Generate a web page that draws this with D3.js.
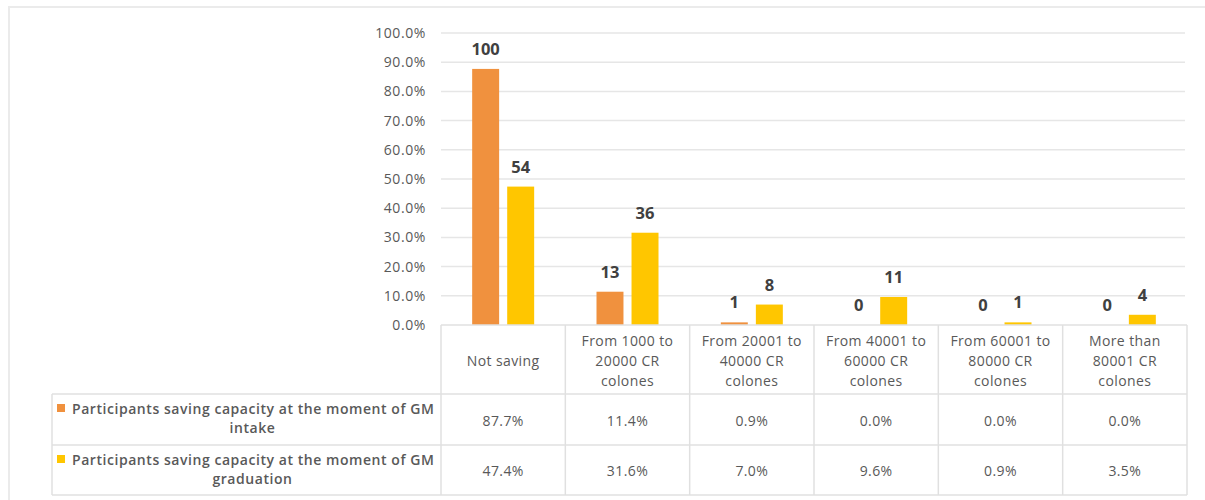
<!DOCTYPE html>
<html>
<head>
<meta charset="utf-8">
<script src="https://cdn.jsdelivr.net/npm/d3@7"></script>
<style>
	body { margin: 0; background: #fff; }
	text { font-family: "Open Sans", "Noto Sans", sans-serif; }
</style>
</head>
<body>
<div class="chart"></div>
<script>
// DATA
var categories = [
	["Not saving"],
	["From 1000 to", "20000 CR", "colones"],
	["From  20001 to", "40000 CR", "colones"],
	["From 40001 to", "60000 CR", "colones"],
	["From 60001 to", "80000 CR", "colones"],
	["More than", "80001 CR", "colones"]
];
var seriesNames = [
	["Participants saving capacity at the moment of GM", "intake"],
	["Participants saving capacity at the moment of GM", "graduation"]
];
var intakePct = [87.7, 11.4, 0.9, 0.0, 0.0, 0.0];
var graduationPct = [47.4, 31.6, 7.0, 9.6, 0.9, 3.5];
var intakeCount = [100, 13, 1, 0, 0, 0];
var graduationCount = [54, 36, 8, 11, 1, 4];
var yTicks = [0, 10, 20, 30, 40, 50, 60, 70, 80, 90, 100];
var colors = ["#f0913e", "#ffc600"];

// SETUP
var width = 1205, height = 500;
var plot = { left: 441, right: 1187, top: 33, bottom: 325 };
var table = { left: 52, header: 394, row1: 445, row2: 495 };
var txtColor = "#595959";

var svg = d3.select(".chart")
	.append("svg")
	.attr("width", width)
	.attr("height", height);

// outer frame
svg.append("path")
	.attr("d", "M9,505 L9,7 L1210,7")
	.attr("fill", "none")
	.attr("stroke", "#ebebeb")
	.attr("stroke-width", 2);

var x = d3.scaleBand()
	.domain(d3.range(categories.length))
	.range([plot.left, plot.right]);

var y = d3.scaleLinear()
	.domain([0, 100])
	.range([plot.bottom, plot.top]);

var sub = d3.scaleBand()
	.domain([0, 1])
	.range([0, 62])
	.paddingInner(0.23);

// gridlines
svg.append("g")
	.selectAll("line")
	.data(yTicks.slice(1))
	.enter().append("line")
		.attr("x1", plot.left)
		.attr("x2", plot.right - 2)
		.attr("y1", function(d) { return y(d); })
		.attr("y2", function(d) { return y(d); })
		.attr("stroke", "#e6e6e6")
		.attr("stroke-width", 1.5);

// y axis labels
svg.append("g")
	.selectAll("text")
	.data(yTicks)
	.enter().append("text")
		.attr("x", 426)
		.attr("y", function(d) { return y(d) + 5; })
		.attr("text-anchor", "end")
		.attr("fill", txtColor)
		.attr("font-size", 14)
		.attr("letter-spacing", 0.6)
		.text(function(d) { return d.toFixed(1) + "%"; });

// bars
var series = [
	{ pct: intakePct, count: intakeCount },
	{ pct: graduationPct, count: graduationCount }
];

series.forEach(function(s, si) {
	var g = svg.append("g");
	g.selectAll("rect")
		.data(s.pct)
		.enter().append("rect")
			.attr("x", function(d, i) { return x(i) + x.bandwidth() / 2 - 31 + sub(si); })
			.attr("width", sub.bandwidth())
			.attr("y", function(d) { return y(d); })
			.attr("height", function(d) { return plot.bottom - y(d); })
			.attr("fill", colors[si]);
	g.selectAll("text")
		.data(s.pct)
		.enter().append("text")
			.attr("x", function(d, i) { return x(i) + x.bandwidth() / 2 - 31 + sub(si) + sub.bandwidth() / 2; })
			.attr("y", function(d) { return y(d) - 14; })
			.attr("text-anchor", "middle")
			.attr("font-size", 16.5)
			.attr("font-weight", "bold")
			.attr("fill", "#404040")
			.text(function(d, i) { return s.count[i]; });
});

// data table
var grid = svg.append("g")
	.attr("stroke", "#e0e0e0")
	.attr("stroke-width", 1.5);

grid.selectAll(".vline")
	.data(d3.range(categories.length + 1))
	.enter().append("line")
		.attr("x1", function(d) { return d < categories.length ? x(d) : plot.right; })
		.attr("x2", function(d) { return d < categories.length ? x(d) : plot.right; })
		.attr("y1", plot.bottom)
		.attr("y2", table.row2);

grid.append("line")
	.attr("x1", plot.left).attr("x2", plot.right)
	.attr("y1", plot.bottom).attr("y2", plot.bottom);

[table.header, table.row1, table.row2].forEach(function(yy) {
	grid.append("line")
		.attr("x1", table.left).attr("x2", plot.right)
		.attr("y1", yy).attr("y2", yy);
});

grid.append("line")
	.attr("x1", table.left).attr("x2", table.left)
	.attr("y1", table.header).attr("y2", table.row2);

// header cells
var header = svg.append("g")
	.selectAll("text")
	.data(categories)
	.enter().append("text")
		.attr("text-anchor", "middle")
		.attr("font-size", 14)
		.attr("letter-spacing", 0.4)
		.attr("fill", txtColor);

header.each(function(lines, i) {
	var mid = 366;
	var start = mid - (lines.length - 1) * 10;
	d3.select(this).selectAll("tspan")
		.data(lines)
		.enter().append("tspan")
			.attr("x", x(i) + x.bandwidth() / 2)
			.attr("y", function(d, j) { return start + j * 20; })
			.text(function(d) { return d; });
});

// value rows
var rows = [intakePct, graduationPct];
var rowTops = [table.header, table.row1];
var rowBottoms = [table.row1, table.row2];

rows.forEach(function(vals, ri) {
	var cy = (rowTops[ri] + rowBottoms[ri]) / 2;
	svg.append("g")
		.selectAll("text")
		.data(vals)
		.enter().append("text")
			.attr("x", function(d, i) { return x(i) + x.bandwidth() / 2; })
			.attr("y", cy + 6)
			.attr("text-anchor", "middle")
			.attr("font-size", 14)
			.attr("letter-spacing", 0.4)
			.attr("fill", txtColor)
			.text(function(d) { return d.toFixed(1) + "%"; });

	// legend key
	svg.append("rect")
		.attr("x", 57)
		.attr("y", rowTops[ri] + 10)
		.attr("width", 8)
		.attr("height", 8)
		.attr("fill", colors[ri]);

	svg.append("text")
		.attr("x", 72)
		.attr("y", rowTops[ri] + 20)
		.attr("font-size", 14)
		.attr("font-weight", 600)
		.attr("letter-spacing", 0.55)
		.attr("fill", txtColor)
		.text(seriesNames[ri][0]);

	svg.append("text")
		.attr("x", (table.left + plot.left) / 2 + 6)
		.attr("y", rowTops[ri] + 39)
		.attr("text-anchor", "middle")
		.attr("font-size", 14)
		.attr("font-weight", 600)
		.attr("letter-spacing", 0.55)
		.attr("fill", txtColor)
		.text(seriesNames[ri][1]);
});
</script>
</body>
</html>
